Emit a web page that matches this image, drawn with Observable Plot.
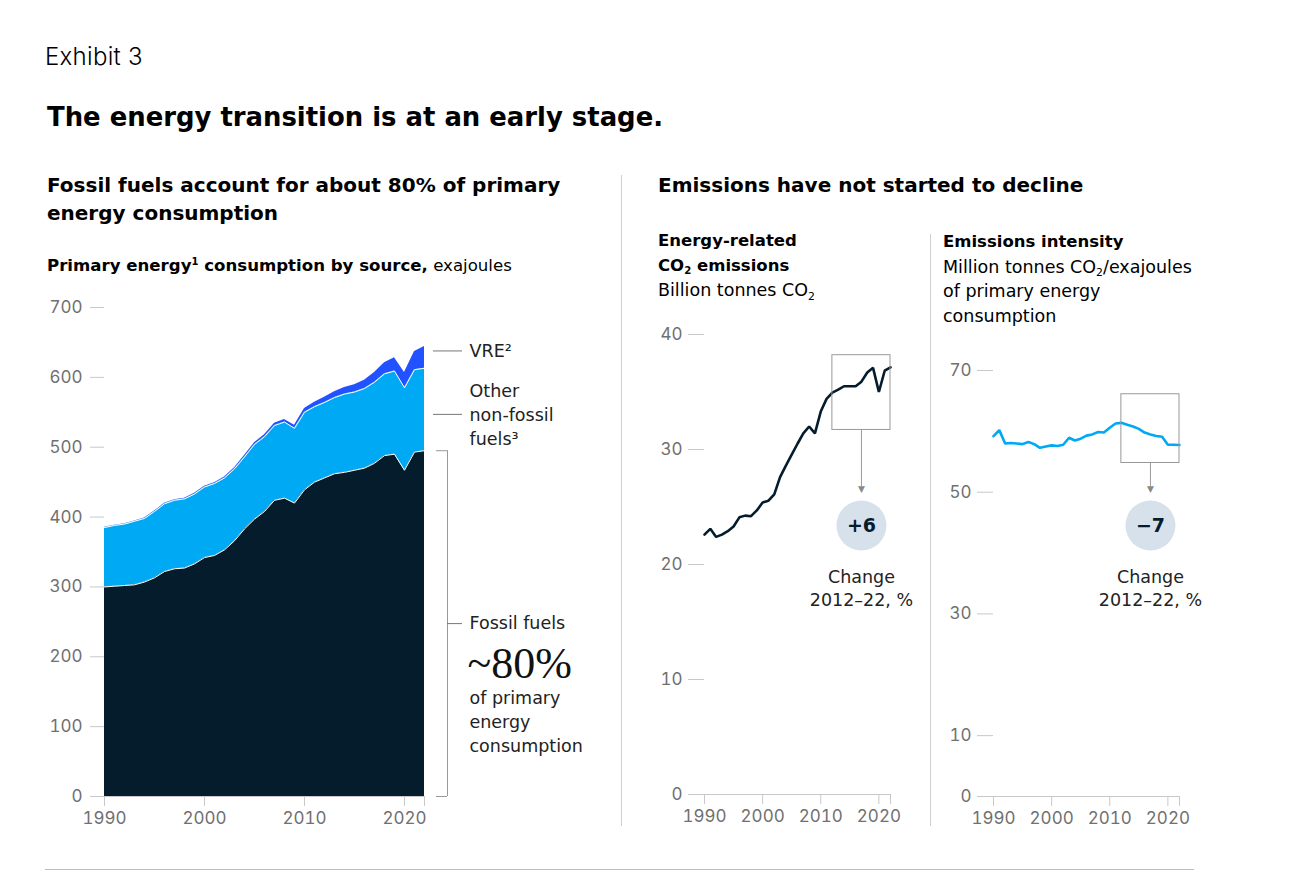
<!DOCTYPE html>
<html><head><meta charset="utf-8">
<script src="https://cdn.jsdelivr.net/npm/d3@7"></script>
<script src="https://cdn.jsdelivr.net/npm/@observablehq/plot@0.6"></script>
<style>
body{margin:0;background:#fff;font-family:"DejaVu Sans",sans-serif;color:#000;}
#root{position:relative;width:1296px;height:894px;overflow:hidden;background:#fff;}
.t{position:absolute;white-space:nowrap;}
sub{font-size:0.62em;vertical-align:baseline;position:relative;top:0.35em;line-height:0;}
sup{font-size:0.6em;vertical-align:baseline;position:relative;top:-0.6em;line-height:0;}
.rule{position:absolute;background:#cfcfcf;}
svg{position:absolute;}
</style></head>
<body><div id="root">
<div class="t" style="left:45px;top:42px;font-family:Inter,sans-serif;font-size:24px;font-weight:300;letter-spacing:0.3px;line-height:30px;">Exhibit 3</div>
<div class="t" style="left:47px;top:100px;font-size:25.9px;font-weight:700;line-height:34px;">The energy transition is at an early stage.</div>
<div class="t" style="left:47px;top:171px;font-size:20px;font-weight:700;line-height:28px;">Fossil fuels account for about 80% of primary<br>energy consumption</div>
<div class="t" style="left:47px;top:254px;font-size:16.6px;line-height:24px;"><b>Primary energy<sup>1</sup> consumption by source,</b> exajoules</div>
<div class="t" style="left:658px;top:171px;font-size:20px;font-weight:700;line-height:28px;">Emissions have not started to decline</div>
<div class="t" style="left:658px;top:229px;font-size:16.5px;line-height:24.5px;"><b>Energy-related<br>CO<sub>2</sub> emissions</b><br><span style="font-size:17.5px">Billion tonnes CO<sub>2</sub></span></div>
<div class="t" style="left:943px;top:229px;font-size:17.5px;line-height:24.5px;"><b style="font-size:16.5px">Emissions intensity</b><br>Million tonnes CO<sub>2</sub>/exajoules<br>of primary energy<br>consumption</div>
<div class="rule" style="left:621px;top:175px;width:1px;height:651px;"></div>
<div class="rule" style="left:930px;top:234px;width:1px;height:592px;"></div>
<div class="rule" style="left:45px;top:869px;width:1149px;height:1px;background:#bdbdbd;"></div>
</div>
<script>
// ---- data ----
const years = [1990,1991,1992,1993,1994,1995,1996,1997,1998,1999,2000,2001,2002,2003,2004,2005,2006,2007,2008,2009,2010,2011,2012,2013,2014,2015,2016,2017,2018,2019,2020,2021,2022];
const fossil = [300,301,302,303,307,313,322,326,327,333,342,345,353,366,383,397,408,424,427,420,439,450,456,462,464,467,470,477,488,490,467,493,495];
const otherNonFossil = [85,87,88,91,91,95,97,98,99,100,101,103,103,103,103,107,107,107,109,107,111,108,108,109,112,112,114,116,117,119,118,118,118];
const vre = [0.4,0.4,0.5,0.5,0.6,0.6,0.7,0.8,0.9,1.0,1.1,1.3,1.5,1.7,2.0,2.3,2.7,3.2,3.8,4.5,5.5,6.5,7.5,8.5,9.5,10.5,12,14,16,19,22,26,31];
const co2 = [22.6,23.1,22.4,22.6,22.9,23.3,24.1,24.25,24.2,24.7,25.4,25.55,26.1,27.6,28.6,29.55,30.5,31.4,32.0,31.4,33.3,34.4,34.95,35.2,35.5,35.5,35.5,35.9,36.7,37.1,35.0,36.85,37.15];
const intensity = [59.2,60.2,58.0,58.1,58.0,57.9,58.25,57.9,57.3,57.5,57.7,57.6,57.8,58.95,58.5,58.8,59.3,59.5,59.9,59.8,60.6,61.3,61.4,61.1,60.8,60.4,59.8,59.5,59.25,59.1,57.8,57.8,57.75];
const leftYTicks = [0,100,200,300,400,500,600,700];
const co2YTicks = [0,10,20,30,40];
const intensityYTicks = [0,10,30,50,70];
const xTicks = [1990,2000,2010,2020,2022];
const xTickLabels = ["1990","2000","2010","2020",""];
const highlight = [2012,2022];
const co2Box = [31.7,38.2];
const intensityBox = [54.8,66.1];
const changeLabels = ["+6","\u22127"];
const sourceLabels = ["VRE\u00B2","Other\nnon-fossil\nfuels\u00B3","Fossil fuels"];

// ---- colours / style ----
const C = {fossil:"#051c2c", other:"#00a9f4", vre:"#2251ff", tick:"#c8c8c8", label:"#707070", ann:"#999", text:"#222", bubble:"#d6e1ec"};
const FONT = "Inter, 'Liberation Sans', sans-serif";
const TFONT = "'DejaVu Sans', sans-serif";
const root = document.getElementById("root");
const fmtX = d => xTickLabels[xTicks.indexOf(d)];

const stackRows = years.map((year,i)=>({year, s1:fossil[i], s2:fossil[i]+otherNonFossil[i], s3:fossil[i]+otherNonFossil[i]+vre[i]}));
const last = stackRows[stackRows.length-1];

// ---- left chart ----
const left = Plot.plot({
  width:600, height:546, marginLeft:104, marginRight:176, marginTop:17, marginBottom:40,
  x:{domain:[1990,2022]}, y:{domain:[0,700]},
  style:{fontFamily:FONT, overflow:"visible", background:"transparent"},
  marks:[
    Plot.axisY({ticks:leftYTicks, tickSize:14, tickPadding:8, fontSize:17, stroke:C.tick, fill:C.label, label:null, tickFormat:d=>String(d)}),
    Plot.axisX({ticks:xTicks, tickSize:10, tickPadding:5, fontSize:17, stroke:C.tick, fill:C.label, label:null, tickFormat:fmtX}),
    Plot.areaY(stackRows,{x:"year", y1:0, y2:"s1", fill:C.fossil}),
    Plot.areaY(stackRows,{x:"year", y1:"s1", y2:"s2", fill:C.other}),
    Plot.areaY(stackRows,{x:"year", y1:"s2", y2:"s3", fill:C.vre}),
    Plot.lineY(stackRows,{x:"year", y:"s1", stroke:"#fff", strokeWidth:1}),
    Plot.lineY(stackRows,{x:"year", y:"s2", stroke:"#fff", strokeWidth:1}),
    Plot.ruleY([0],{stroke:C.tick}),
    // leaders and bracket
    Plot.ruleY([last.s3 - (last.s3-last.s2)*0.2],{x1:2022.9, x2:2025.8, stroke:"#777"}),
    Plot.ruleY([(last.s1+last.s2)/2 - 7],{x1:2022.9, x2:2025.8, stroke:"#777"}),
    Plot.ruleX([2024.3],{y1:0, y2:last.s1, stroke:C.ann}),
    Plot.ruleY([0,last.s1],{x1:2023.2, x2:2024.3, stroke:C.ann}),
    Plot.ruleY([last.s1/2],{x1:2024.3, x2:2025.8, stroke:"#777"}),
    Plot.text([sourceLabels[0]],{x:2026.5, y:last.s3 - (last.s3-last.s2)*0.2, text:d=>d, textAnchor:"start", fontSize:17.5, fontFamily:TFONT, fill:C.text}),
    Plot.text([sourceLabels[1]],{x:2026.5, y:(last.s1+last.s2)/2 - 5, text:d=>d, textAnchor:"start", fontSize:17.5, fontFamily:TFONT, lineHeight:1.38, fill:C.text}),
    Plot.text([sourceLabels[2]],{x:2026.5, y:last.s1/2, text:d=>d, textAnchor:"start", fontSize:17.5, fontFamily:TFONT, fill:C.text}),
    Plot.text(["~80%"],{x:2026.3, y:last.s1/2, dy:40, text:d=>d, textAnchor:"start", fontSize:44, fontFamily:"'Liberation Serif', serif", fill:"#111"}),
    Plot.text(["of primary\nenergy\nconsumption"],{x:2026.5, y:last.s1/2, dy:97, text:d=>d, textAnchor:"start", fontSize:17.5, fontFamily:TFONT, lineHeight:1.38, fill:C.text})
  ]
});
left.style.left="0px"; left.style.top="290px";
root.appendChild(left);

// ---- small multiples ----
function smallChart({values, ticks, domain, marginLeft, marginTop, plotH, top, leftPx, stroke, box, change, width}){
  const rows = years.map((year,i)=>({year, value:values[i]}));
  const ppu = plotH/domain[1];
  const bottom = top + marginTop + plotH;
  const yAt = p => (bottom - p)/ppu;
  const mid = (highlight[0]+highlight[1])/2;
  const svg = Plot.plot({
    width, height: marginTop+plotH+40, marginLeft, marginRight:30, marginTop, marginBottom:40,
    x:{domain:[1990,2022]}, y:{domain},
    style:{fontFamily:FONT, overflow:"visible", background:"transparent"},
    marks:[
      Plot.axisY({ticks, tickSize:16, tickPadding:6, fontSize:17, stroke:C.tick, fill:C.label, label:null, tickFormat:d=>String(d)}),
      Plot.axisX({ticks:xTicks, tickSize:10, tickPadding:5, fontSize:17, stroke:C.tick, fill:C.label, label:null, tickFormat:fmtX}),
      Plot.ruleY([0],{stroke:C.tick}),
      Plot.lineY(rows,{x:"year", y:"value", stroke, strokeWidth:2.6, strokeLinejoin:"miter"}),
      Plot.rect([box],{x1:highlight[0], x2:highlight[1], y1:d=>d[0], y2:d=>d[1], fill:"none", stroke:C.ann, strokeWidth:1}),
      Plot.ruleX([mid],{y1:box[0], y2:yAt(486), stroke:C.ann}),
      Plot.text(["\u25BC"],{x:mid, y:yAt(489), text:d=>d, fontSize:9, fill:"#888", fontFamily:TFONT}),
      Plot.dot([change],{x:mid, y:yAt(525), r:25, fill:C.bubble, stroke:"none"}),
      Plot.text([change],{x:mid, y:yAt(525), text:d=>d, fontSize:19, fontWeight:700, fontFamily:TFONT, fill:C.fossil}),
      Plot.text(["Change\n2012\u201322, %"],{x:mid, y:yAt(586.5), text:d=>d, fontSize:17.5, fontFamily:TFONT, lineHeight:1.32, fill:C.text})
    ]
  });
  svg.style.left = leftPx+"px"; svg.style.top = top+"px";
  root.appendChild(svg);
}
smallChart({values:co2, ticks:co2YTicks, domain:[0,40], marginLeft:84, marginTop:14, plotH:460, top:320, leftPx:620, stroke:C.fossil, box:co2Box, change:changeLabels[0], width:300});
smallChart({values:intensity, ticks:intensityYTicks, domain:[0,70], marginLeft:63, marginTop:50, plotH:426, top:320, leftPx:930, stroke:C.other, box:intensityBox, change:changeLabels[1], width:279});
</script>
</body></html>
